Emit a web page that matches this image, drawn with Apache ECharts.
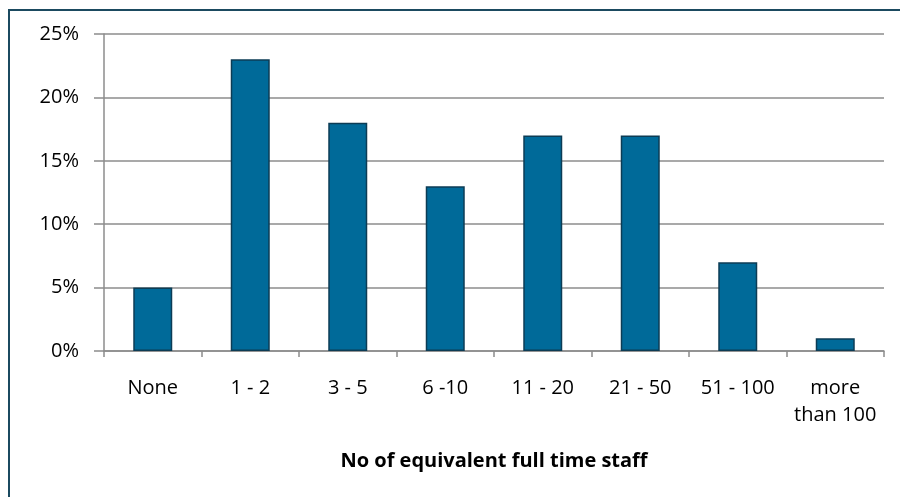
<!DOCTYPE html>
<html>
<head>
<meta charset="utf-8">
<script src="https://cdn.jsdelivr.net/npm/echarts@6/dist/echarts.min.js"></script>
<style>
  html, body { margin: 0; padding: 0; background: #fff; }
  #chart { width: 900px; height: 497px; }
</style>
</head>
<body>
<div id="chart"></div>
<script>
// Staff size bands and share of respondents (%)
const categories = ['None', '1 - 2', '3 - 5', '6 -10', '11 - 20', '21 - 50', '51 - 100', 'more\nthan 100'];
const shares = [5, 23, 18, 13, 17, 17, 7, 1];
const yTicks = { min: 0, max: 25, interval: 5 };
const axisTitle = 'No of equivalent full time staff';

const FONT = '"Open Sans", "DejaVu Sans", sans-serif';
const chart = echarts.init(document.getElementById('chart'), null, { renderer: 'canvas' });

chart.setOption({
  animation: false,
  backgroundColor: '#ffffff',
  graphic: [{
    type: 'rect',
    shape: { x: 9, y: 10, width: 1000, height: 600 },
    style: { fill: 'none', stroke: '#1b4a60', lineWidth: 2 },
    silent: true
  }],
  grid: { left: 104, right: 16, top: 34, bottom: 146, containLabel: false },
  xAxis: {
    type: 'category',
    data: categories,
    name: axisTitle,
    nameLocation: 'middle',
    nameGap: 100,
    nameTextStyle: { fontFamily: FONT, fontSize: 20, fontWeight: 'bold', color: '#000' },
    axisLine: { lineStyle: { color: '#8c8c8c', width: 1.5 } },
    axisTick: { show: true, alignWithLabel: false, length: 6, lineStyle: { color: '#8c8c8c', width: 1.5 } },
    axisLabel: { fontFamily: FONT, fontSize: 20, color: '#000', margin: 24, lineHeight: 27, interval: 0 },
    splitLine: { show: false }
  },
  yAxis: {
    type: 'value',
    min: yTicks.min,
    max: yTicks.max,
    interval: yTicks.interval,
    axisLine: { show: true, lineStyle: { color: '#8c8c8c', width: 1.5 } },
    axisTick: { show: true, length: 10, lineStyle: { color: '#8c8c8c', width: 1.5 } },
    axisLabel: { fontFamily: FONT, fontSize: 20, color: '#000', margin: 25, formatter: v => v + '%' },
    splitLine: { show: true, lineStyle: { color: '#8c8c8c', width: 1.5 } }
  },
  series: [{
    type: 'bar',
    data: shares,
    barWidth: '40%',
    itemStyle: { color: '#006a99', borderColor: '#0c3c55', borderWidth: 1.5 }
  }]
});
</script>
</body>
</html>
